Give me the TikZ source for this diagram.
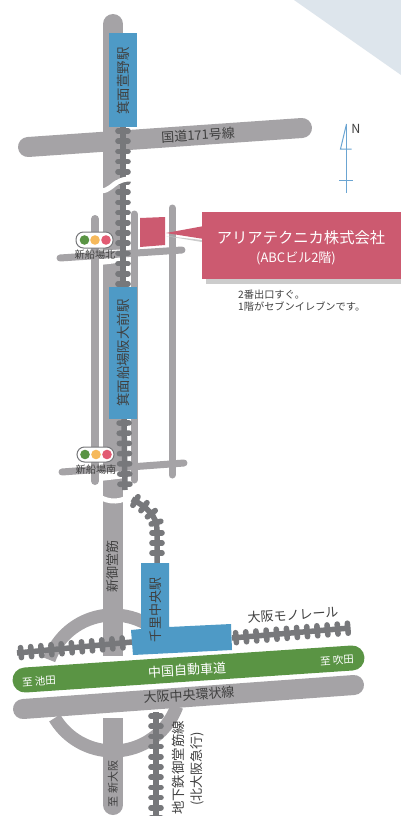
\documentclass[tikz,border=0pt]{standalone}
\usepackage{fontspec}
\setmainfont{Noto Sans CJK JP}
\usetikzlibrary{decorations.markings}
\definecolor{road}{HTML}{A5A3A6}
\definecolor{rail}{HTML}{77787B}
\definecolor{sta}{HTML}{4E9AC6}
\definecolor{grn}{HTML}{5A9444}
\definecolor{pnk}{HTML}{CC5A70}
\definecolor{txt}{HTML}{404040}
\definecolor{sky}{HTML}{DDE5EC}
\definecolor{nblue}{HTML}{6BA5D2}
\definecolor{lampy}{HTML}{F6B95B}
\definecolor{lampr}{HTML}{E25B73}
\tikzset{
  x=1pt,y=-1pt,
  roadline/.style={draw=road,line width=20,line cap=round},
  thin road/.style={draw=road,line width=7,line cap=round},
  ties/.style={postaction={decorate,decoration={markings,
     mark=between positions 4pt and -1pt step 10.2pt with {\draw[rail,line width=5.6,line cap=round] (0,-5)--(0,5);}}}},
  track/.style={draw=rail,line width=5.5,ties},
  stationbox/.style={fill=sta,draw=none},
  lab/.style={text=txt,inner sep=0,font=\fontsize{13}{13}\selectfont},
  stationlab/.style={lab,font=\fontsize{13.4}{13.4}\selectfont},
  smalllab/.style={text=txt,inner sep=0,font=\fontsize{10.2}{12}\selectfont},
  whitelab/.style={text=white,inner sep=0,font=\fontsize{13}{13}\selectfont},
  lampbox/.style={draw=rail,line width=1,fill=white,rounded corners=7.5},
  cut/.style={draw=white,line width=5},
}
\begin{document}
\begin{tikzpicture}
\useasboundingbox (0,0) rectangle (401,816);
\fill[white] (0,0) rectangle (401,816);
\fill[sky] (294,0) -- (401,75) -- (401,0) -- cycle;
% ring
\draw[road,line width=13] (49.1,659.7) arc[start angle=200,end angle=300,radius=68];
\draw[road,line width=13] (54.7,718) arc[start angle=149,end angle=20,radius=68];
% main road
\draw[road,line width=20,line cap=round] (113,24) -- (113,30);
\draw[road,line width=20] (113,30) -- (113,656);
\draw[road,line width=20,line cap=round] (113,805) -- (113,800);
\draw[road,line width=20] (113,800) -- (113,718);
% gaps in the main road at the side streets
\fill[white] (100,251) -- (126,249) -- (126,262) -- (100,265) -- cycle;
\fill[white] (100,468) -- (126,466) -- (126,478) -- (100,481) -- cycle;
% thin roads
\draw[thin road,line width=8] (95,219) -- (95,481);
\draw[thin road] (134,214) -- (134,480);
\draw[thin road] (172,208) -- (172,475);
\draw[thin road] (60,258) -- (182,250);
\draw[thin road] (62,472) -- (184,463);
% highways
\draw[roadline] (28,147) -- (302,128);
\draw[roadline] (23,709) -- (354,685);
\draw[draw=grn,line width=25,line cap=round] (25,680) -- (352,658);
% rails
\draw[track] (123,127) -- (123,285);
\draw[track] (124,419) -- (125,490);
\draw[track] (132,499) .. controls (146,507) and (157,515) .. (157,530) -- (157,563);
\draw[track] (17,653) -- (132,642);
\draw[track] (232,638) -- (350,628);
\draw[track] (156,712) -- (156,820);
% breaks
\draw[cut] (100,191) .. controls (110,191) and (112,184) .. (120,181) .. controls (124,179) and (128,179) .. (133,179);
\draw[cut] (100,497) .. controls (108,502) and (122,504) .. (133,493);
% stations
\fill[stationbox] (109,33) rectangle (137,127);
\fill[stationbox] (109,287) rectangle (137,419);
\fill[stationbox] (141,563) -- (169,563) -- (169,627) -- (231,624) -- (232,650) -- (133,655) -- (131,630) -- (141,629) -- cycle;
\node[stationlab,rotate=90] (n1) at (123,81) {箕面萱野駅};
\node[stationlab,rotate=90] (n2) at (123,353) {箕面船場阪大前駅};
\node[lab,rotate=90] (n3) at (156,610) {千里中央駅};
% roads labels
\node[lab,rotate=3.5] (n4) at (198,135) {国道171号線};
\node[lab,rotate=90] (n5) at (113,566) {新御堂筋};
\node[lab,rotate=3.5] (n6) at (293,615) {大阪モノレール};
\node[whitelab,rotate=3.5] (n7) at (187,670) {中国自動車道};
\node[whitelab,font=\fontsize{10.5}{12}\selectfont,rotate=3.5] (n8) at (39,681) {至 池田};
\node[whitelab,font=\fontsize{10.5}{12}\selectfont,rotate=3.5] (n9) at (337,660) {至 吹田};
\node[lab,rotate=3.5] (n10) at (189,695) {大阪中央環状線};
\node[stationlab,rotate=90] (n11) at (178,768) {地下鉄御堂筋線};
\node[lab,rotate=90] (n12) at (197,769) {(北大阪急行)};
\node[lab,font=\fontsize{11}{12}\selectfont,rotate=90] (n13) at (113,784) {至 新大阪};
% traffic lights
\draw[lampbox] (76,232) rectangle (113,248);
\fill[grn] (84.5,240) circle[radius=4.8];
\fill[lampy] (95,240) circle[radius=4.8];
\fill[lampr] (106,240) circle[radius=4.8];
\node[smalllab] (s1) at (95,255) {新船場北};
\draw[lampbox] (77,447) rectangle (114,462);
\fill[grn] (85,454.5) circle[radius=4.8];
\fill[lampy] (96,454.5) circle[radius=4.8];
\fill[lampr] (107,454.5) circle[radius=4.8];
\node[smalllab] (s2) at (96,470) {新船場南};
% company
\fill[black!20] (206,279) rectangle (401,284);
\fill[black!20] (166,236) -- (202,240) -- (202,242) -- cycle;
\fill[pnk] (140,218) -- (165,217) -- (165,245) -- (140,247) -- cycle;
\fill[pnk] (202,212) rectangle (401,279);
\fill[pnk] (166,233) -- (204,226) -- (204,239) -- cycle;
\node[whitelab,font=\fontsize{15.3}{15.3}\selectfont] (c1) at (301,238) {アリアテクニカ株式会社};
\node[whitelab,font=\fontsize{13}{13}\selectfont] (c2) at (296,258) {(ABCビル2階)};
\node[smalllab,anchor=west] (c3) at (238,295) {2番出口すぐ。};
\node[smalllab,anchor=west] (c4) at (238,307) {1階がセブンイレブンです。};
% north
\draw[nblue,line width=1] (346.5,124) -- (346.5,193);
\draw[nblue,line width=1] (346.5,124) -- (340.5,149) -- (351.5,149);
\draw[nblue,line width=1] (339,180) -- (353,180);
\node[lab,font=\fontsize{12.5}{13}\selectfont] (nn) at (356,129) {N};
\end{tikzpicture}
\end{document}
